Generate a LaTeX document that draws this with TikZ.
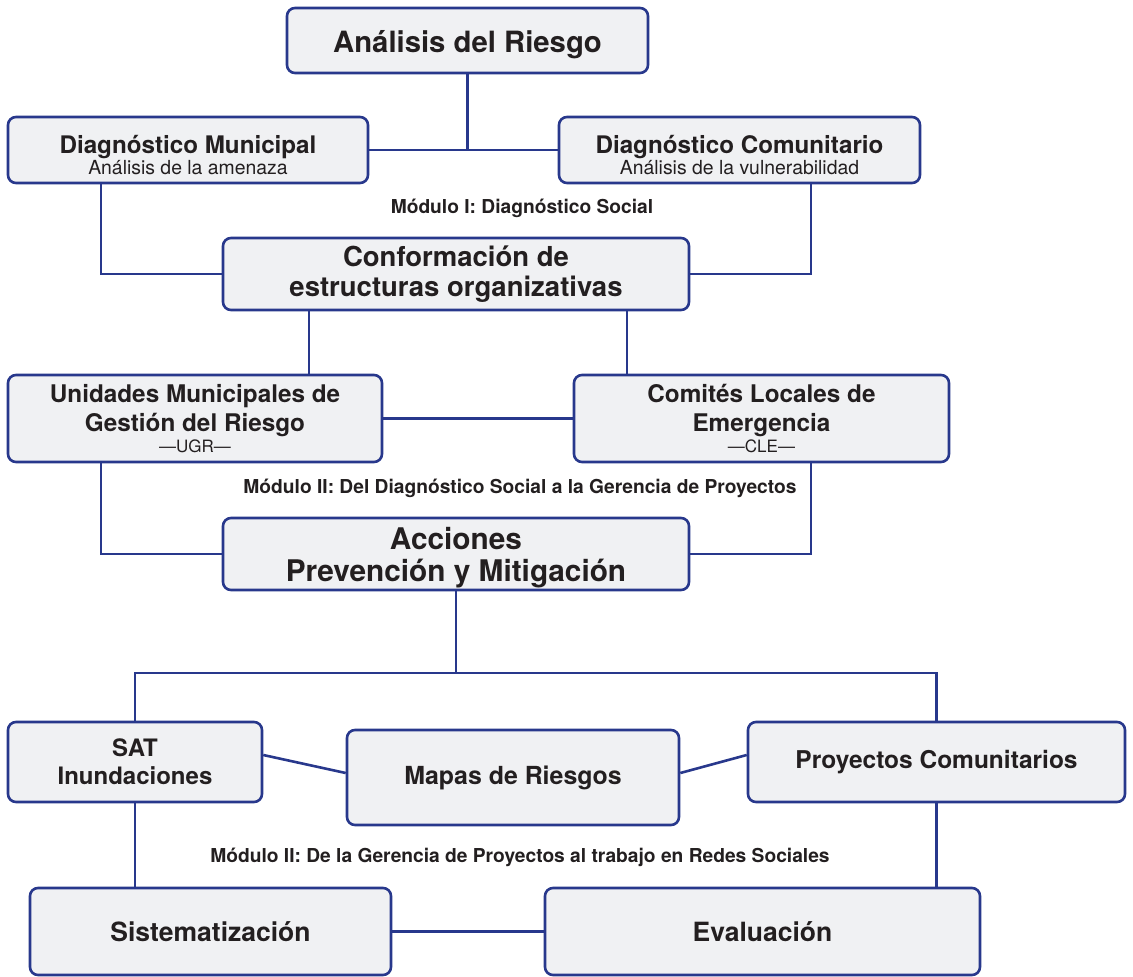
\documentclass[tikz,border=0pt]{standalone}
\usepackage{fontspec}
\setmainfont{TeX Gyre Heros}
\definecolor{navy}{RGB}{40,56,140}
\definecolor{boxfill}{RGB}{240,241,243}
\definecolor{ink}{RGB}{35,31,32}
\newcommand{\fs}[2]{\fontsize{#1}{#2}\selectfont}
\newcommand{\topstrut}[1]{\rule{0pt}{#1}}
\begin{document}
\begin{tikzpicture}[x=1pt,y=-1pt,
  box/.style={draw=navy, line width=2.6pt, fill=boxfill, rounded corners=8pt,
    inner sep=0pt, align=center, text=ink, font=\bfseries},
  link/.style={draw=navy, line width=2.6pt},
  modlabel/.style={text=ink, font=\bfseries\fs{19.2}{22}, inner sep=0pt}]
\useasboundingbox (0,0) rectangle (1133,977);

% top level
\node[box, minimum width=361pt, minimum height=65pt, font=\bfseries\fs{29.3}{34}]
  (A) at (467.5,40.5) {\topstrut{31pt}Análisis del Riesgo};
\node[box, minimum width=360pt, minimum height=66pt]
  (DM) at (188,150) {{\fs{24.2}{24}\topstrut{28pt}Diagnóstico Municipal}\\[0pt]{\mdseries\fs{19.4}{20}Análisis de la amenaza}};
\node[box, minimum width=361pt, minimum height=66pt]
  (DC) at (739.5,150) {{\fs{24.2}{24}\topstrut{28pt}Diagnóstico Comunitario}\\[0pt]{\mdseries\fs{19.4}{20}Análisis de la vulnerabilidad}};
\node[modlabel] (L1) at (522,208) {Módulo I: Diagnóstico Social};

% module I -> II
\node[box, minimum width=466pt, minimum height=72pt, font=\bfseries\fs{27.5}{30}]
  (CONF) at (456,274) {Conformación de\\estructuras organizativas};
\node[box, minimum width=374pt, minimum height=87pt, font=\bfseries\fs{24.3}{29}]
  (UGR) at (195,418.5) {Unidades Municipales de\\Gestión del Riesgo\\[-8pt]{\mdseries\fs{17}{18}—UGR—}};
\node[box, minimum width=375pt, minimum height=87pt, font=\bfseries\fs{24.3}{29}]
  (CLE) at (761.5,418.5) {Comités Locales de\\Emergencia\\[-8pt]{\mdseries\fs{17}{18}—CLE—}};
\node[modlabel] (L2) at (520,488) {Módulo II: Del Diagnóstico Social a la Gerencia de Proyectos};

\node[box, minimum width=466pt, minimum height=72pt, font=\bfseries\fs{29.8}{32}]
  (ACC) at (456,554) {\topstrut{30pt}Acciones\\Prevención y Mitigación};

% bottom level
\node[box, minimum width=254pt, minimum height=80pt, font=\bfseries\fs{24}{28}]
  (SAT) at (135,762) {SAT\\Inundaciones};
\node[box, minimum width=332pt, minimum height=95pt, font=\bfseries\fs{24.9}{28}]
  (MAP) at (513,777.5) {Mapas de Riesgos};
\node[box, minimum width=377pt, minimum height=80pt, font=\bfseries\fs{24.5}{28}]
  (PC) at (936.5,762) {Proyectos Comunitarios};
\node[modlabel] (L3) at (520,857) {Módulo II: De la Gerencia de Proyectos al trabajo en Redes Sociales};
\node[box, minimum width=361pt, minimum height=87pt, font=\bfseries\fs{26.5}{30}]
  (SIS) at (210.5,931.5) {Sistematización};
\node[box, minimum width=435pt, minimum height=87pt, font=\bfseries\fs{26.5}{30}]
  (EVA) at (762.5,931.5) {Evaluación};

% guide coordinates for connector columns
\coordinate (xL) at (101,0);
\coordinate (xR) at (811,0);
\coordinate (c1) at (309,0);
\coordinate (c2) at (627,0);
\coordinate (bus) at (0,673);

% connectors
\draw[link] (DM.east) -- (DC.west);
\draw[link] (A.south) -- (A.south |- DM.east);
\draw[link] (xL |- DM.south) |- (CONF.west);
\draw[link] (xR |- DC.south) |- (CONF.east);
\draw[link] (c1 |- CONF.south) -- (c1 |- UGR.north);
\draw[link] (c2 |- CONF.south) -- (c2 |- CLE.north);
\draw[link] (UGR.east) -- (CLE.west);
\draw[link] (xL |- UGR.south) |- (ACC.west);
\draw[link] (xR |- CLE.south) |- (ACC.east);
\draw[link] (ACC.south) -- (ACC.south |- bus);
\draw[link] (SAT.north) |- (ACC.south |- bus) -| (PC.north);
\draw[link] ([yshift=7pt]SAT.east) -- ([yshift=4.5pt]MAP.west);
\draw[link] ([yshift=4.5pt]MAP.east) -- ([yshift=7pt]PC.west);
\draw[link] (SAT.south) -- (SAT.south |- SIS.north);
\draw[link] (PC.south) -- (PC.south |- EVA.north);
\draw[link] (SIS.east) -- (EVA.west);
\end{tikzpicture}
\end{document}
